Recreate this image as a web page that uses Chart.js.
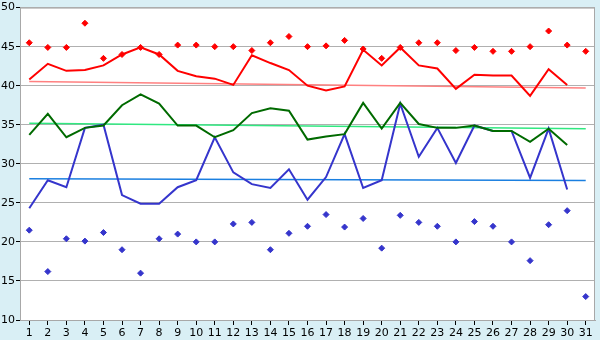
<!DOCTYPE html>
<html>
<head>
<meta charset="utf-8">
<script src="https://cdn.jsdelivr.net/npm/chart.js@4/dist/chart.umd.min.js"></script>
<style>
  html, body { margin: 0; padding: 0; background: #d9eff5; }
  #wrap { width: 600px; height: 340px; }
</style>
</head>
<body>
<div id="wrap"><canvas id="line-chart" width="600" height="340"></canvas></div>
<script>
const days = ['1','2','3','4','5','6','7','8','9','10','11','12','13','14','15','16','17','18','19','20','21','22','23','24','25','26','27','28','29','30','31'];

// upper series
const redLine = [40.8, 42.8, 41.9, 42.0, 42.6, 44.0, 44.9, 44.0, 41.9, 41.2, 40.9, 40.1, 43.9, 42.9, 42.0, 40.0, 39.4, 39.9, 44.6, 42.6, 44.9, 42.6, 42.2, 39.6, 41.4, 41.3, 41.3, 38.7, 42.1, 40.1];
const redDots = [45.5, 44.9, 44.9, 48.0, 43.5, 44.0, 44.9, 44.0, 45.2, 45.2, 45.0, 45.0, 44.5, 45.5, 46.3, 45.0, 45.1, 45.8, 44.7, 43.5, 44.9, 45.5, 45.5, 44.5, 44.9, 44.4, 44.4, 45.0, 47.0, 45.2, 44.4];
const redTrend = [40.55, 39.7];

// middle series
const greenLine = [33.7, 36.4, 33.4, 34.6, 34.9, 37.5, 38.9, 37.7, 34.9, 34.9, 33.4, 34.3, 36.5, 37.1, 36.8, 33.1, 33.5, 33.8, 37.8, 34.5, 37.8, 35.1, 34.6, 34.6, 34.9, 34.2, 34.2, 32.8, 34.5, 32.4];
const greenTrend = [35.2, 34.5];

// lower series
const blueLine = [24.3, 27.9, 27.0, 34.6, 35.0, 26.0, 24.9, 24.9, 27.0, 27.9, 33.4, 28.9, 27.4, 26.9, 29.3, 25.4, 28.3, 33.8, 26.9, 27.9, 37.7, 30.9, 34.6, 30.1, 34.9, 34.2, 34.2, 28.2, 34.5, 26.7];
const blueDots = [21.5, 16.2, 20.4, 20.1, 21.2, 19.0, 16.0, 20.4, 21.0, 20.0, 20.0, 22.3, 22.5, 19.0, 21.1, 22.0, 23.5, 21.9, 23.0, 19.2, 23.4, 22.5, 22.0, 20.0, 22.6, 22.0, 20.0, 17.6, 22.2, 24.0, 13.0];
const blueTrend = [28.1, 27.85];

const yTicks = [10, 15, 20, 25, 30, 35, 40, 45, 50];

function trend(ends) {
  return [{ x: days[0], y: ends[0] }, { x: days[days.length - 1], y: ends[1] }];
}

const lineStyle = (color) => ({
  borderColor: color, backgroundColor: color, borderWidth: 2,
  pointRadius: 0, tension: 0, fill: false
});
const dotStyle = (color) => ({
  showLine: false, borderColor: color, backgroundColor: color,
  pointStyle: 'rectRot', pointRadius: 3, pointBorderWidth: 1
});
const trendStyle = (color) => ({
  borderColor: color, borderWidth: 1.5, pointRadius: 0, fill: false
});

// white plot area + grey frame round it
const plotBox = {
  id: 'plotBox',
  beforeDraw(chart) {
    const a = chart.chartArea, c = chart.ctx;
    c.save();
    c.fillStyle = '#ffffff';
    c.fillRect(a.left, a.top, a.right - a.left, a.bottom - a.top);
    c.restore();
  },
  afterDraw(chart) {
    const a = chart.chartArea, c = chart.ctx;
    c.save();
    c.strokeStyle = '#a8a8a8';
    c.lineWidth = 1;
    c.strokeRect(a.left + 0.5, a.top + 0.5, a.right - a.left - 1, a.bottom - a.top);
    c.restore();
  }
};

const data = {
  labels: days,
  datasets: [
    { data: redLine, ...lineStyle('#ff0000') },
    { data: greenLine, ...lineStyle('#006a00') },
    { data: blueLine, ...lineStyle('#3535cc') },
    { data: redDots, ...dotStyle('#ff0000') },
    { data: blueDots, ...dotStyle('#3535cc') },
    { data: trend(redTrend), ...trendStyle('#ff8080') },
    { data: trend(greenTrend), ...trendStyle('#30e880') },
    { data: trend(blueTrend), ...trendStyle('#1a7fe0') }
  ]
};

const config = {
  type: 'line',
  data: data,
  plugins: [plotBox],
  options: {
    responsive: false,
    animation: false,
    layout: { padding: { top: 5, right: 5, left: 0, bottom: 0 } },
    plugins: { legend: { display: false }, tooltip: { enabled: false } },
    scales: {
      x: {
        type: 'category',
        offset: true,
        grid: { drawOnChartArea: false, tickLength: 5, tickColor: '#000000', offset: false },
        border: { color: '#a8a8a8' },
        ticks: { color: '#000000', font: { family: 'DejaVu Sans', size: 11 }, padding: 2, maxRotation: 0, autoSkip: false },
        afterFit(s) { s.height = 20; }
      },
      y: {
        min: 10, max: 50,
        afterBuildTicks(s) { s.ticks = yTicks.map(v => ({ value: v })); },
        grid: { color: '#b0b0b0', tickLength: 4, tickColor: '#000000' },
        border: { color: '#a8a8a8' },
        ticks: { color: '#000000', font: { family: 'DejaVu Sans', size: 11 }, padding: 1 },
        afterFit(s) { s.width = 20; }
      }
    }
  }
};

var ctx = document.getElementById('line-chart').getContext('2d');
window.myLine = new Chart(ctx, config);
</script>
</body>
</html>
